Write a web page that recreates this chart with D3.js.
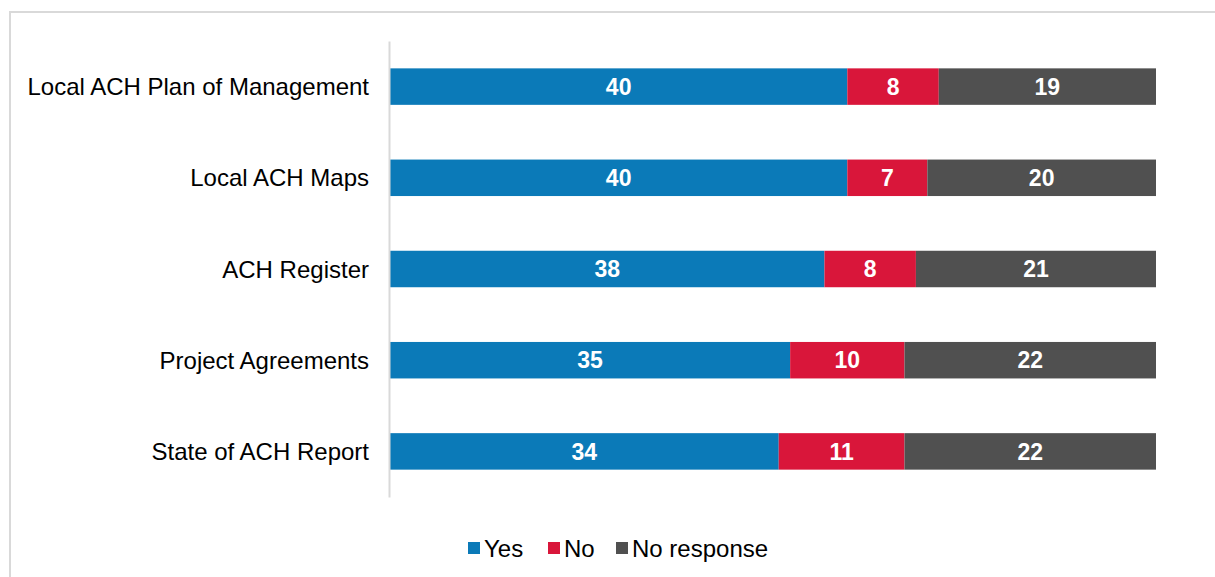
<!DOCTYPE html>
<html>
<head>
<meta charset="utf-8">
<script src="https://cdn.jsdelivr.net/npm/d3@7"></script>
<style>
  body { margin: 0; background: #fff; }
  text { font-family: "Liberation Sans", Arial, sans-serif; }
</style>
</head>
<body>
<div id="chart"></div>
<script>
// categories top to bottom, with counts per answer
const categories = ["Local ACH Plan of Management", "Local ACH Maps", "ACH Register", "Project Agreements", "State of ACH Report"]
const yes = [40, 40, 38, 35, 34]
const no = [8, 7, 8, 10, 11]
const noResponse = [19, 20, 21, 22, 22]
const seriesNames = ["Yes", "No", "No response"]
const colors = ["#0b7ab8", "#d9163a", "#505050"]

const width = 1215, height = 577
const margin = {top: 41, right: 59, bottom: 80, left: 390}

const svg = d3.select("#chart")
  .append("svg")
    .attr("width", width)
    .attr("height", height)

// outer frame
svg.append("rect")
  .attr("x", 10).attr("y", 12)
  .attr("width", width).attr("height", height)
  .attr("fill", "none")
  .attr("stroke", "#d9d9d9")
  .attr("stroke-width", 2)

const rows = categories.map((c, i) => ({cat: c, Yes: yes[i], No: no[i], "No response": noResponse[i]}))
const stacked = d3.stack().keys(seriesNames)(rows)

const x = d3.scaleLinear()
  .domain([0, d3.max(rows, d => d.Yes + d.No + d["No response"])])
  .range([margin.left, width - margin.right])

const y = d3.scaleBand()
  .domain(categories)
  .range([margin.top, height - margin.bottom])
  .paddingInner(0.6)
  .paddingOuter(0.3)

const color = d3.scaleOrdinal().domain(seriesNames).range(colors)

const layers = svg.selectAll("g.layer")
  .data(stacked)
  .join("g")
    .attr("class", "layer")
    .attr("fill", d => color(d.key))

layers.selectAll("rect")
  .data(d => d)
  .join("rect")
    .attr("x", d => x(d[0]))
    .attr("y", d => y(d.data.cat))
    .attr("width", d => x(d[1]) - x(d[0]))
    .attr("height", y.bandwidth())

layers.selectAll("text")
  .data(d => d)
  .join("text")
    .attr("x", d => (x(d[0]) + x(d[1])) / 2)
    .attr("y", d => y(d.data.cat) + y.bandwidth() / 2)
    .attr("dy", "0.36em")
    .attr("text-anchor", "middle")
    .attr("fill", "#fff")
    .attr("font-weight", "bold")
    .attr("font-size", 23)
    .text(d => d[1] - d[0])

// vertical axis line and category labels
const yAxis = svg.append("g")
  .attr("transform", `translate(${margin.left - 1}, 0)`)
  .call(d3.axisLeft(y).tickSize(0).tickPadding(20))
yAxis.select(".domain").attr("stroke", "#d9d9d9").attr("stroke-width", 2)
yAxis.selectAll("text")
  .attr("font-size", 24)
  .attr("dy", "0.36em")
  .attr("fill", "#000")
  .style("font-family", "'Liberation Sans', Arial, sans-serif")

// legend
const legendX = [468, 548, 616]
const legend = svg.append("g")
  .selectAll("g")
  .data(seriesNames)
  .join("g")
    .attr("transform", (d, i) => `translate(${legendX[i]}, 548)`)
legend.append("rect")
  .attr("x", 0).attr("y", -6)
  .attr("width", 12).attr("height", 12)
  .attr("fill", d => color(d))
legend.append("text")
  .attr("x", 16)
  .attr("dy", "0.36em")
  .attr("font-size", 24)
  .attr("fill", "#000")
  .text(d => d)
</script>
</body>
</html>
